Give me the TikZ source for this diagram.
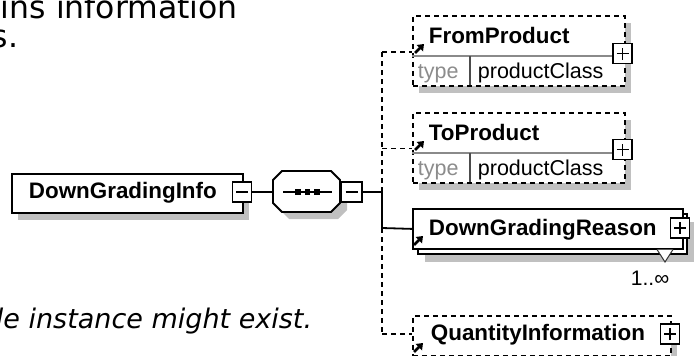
\documentclass[tikz,border=0pt]{standalone}
\usepackage{fontspec}
\setmainfont{Liberation Sans}
\newfontfamily\bodyfont{DejaVu Sans}
\usetikzlibrary{arrows.meta}
\definecolor{shadowgray}{HTML}{C0C0C0}
\definecolor{typegray}{HTML}{8C8C8C}
\definecolor{divgray}{HTML}{8A8A8A}
\begin{document}
\begin{tikzpicture}[x=1pt,y=-1pt,line width=1.8pt,
  shadowfill/.style={fill=shadowgray,draw=none},
  solidbox/.style={draw,fill=white,inner sep=0pt,anchor=north west},
  dbox/.style={solidbox,dash pattern=on 5pt off 4pt},
  dline/.style={dash pattern=on 5pt off 4pt},
  pmbox/.style={draw,solid,fill=white,inner sep=0pt,minimum width=19pt,minimum height=20pt},
  plusbox/.style={pmbox,path picture={\draw[line width=1.7pt]
      ([xshift=-6pt]path picture bounding box.center) -- ([xshift=6pt]path picture bounding box.center)
      ([yshift=-6pt]path picture bounding box.center) -- ([yshift=6pt]path picture bounding box.center);}},
  minusbox/.style={pmbox,path picture={\draw[line width=1.7pt]
      ([xshift=-6pt]path picture bounding box.center) -- ([xshift=6pt]path picture bounding box.center);}},
  elname/.style={font=\bfseries\fontsize{22.4}{26}\selectfont,anchor=base west,inner sep=0pt},
  plain/.style={font=\fontsize{21.5}{26}\selectfont,anchor=base west,inner sep=0pt},
  typetext/.style={plain,text=typegray},
  refarrow/.style={line width=2.8pt,line cap=butt},
  refhead/.style={fill=black,draw=none},
  dot/.style={fill=black,draw=none,minimum size=5.5pt,inner sep=0pt}
]
\useasboundingbox (0,0) rectangle (696,356);
\fill[white] (0,0) rectangle (696,356);

% body text (cut off)
\node[font=\bodyfont\fontsize{31.5}{34}\selectfont,anchor=base west,inner sep=0pt] (t1) at (0,18) {ins information};
\node[font=\bodyfont\fontsize{31.5}{34}\selectfont,anchor=base east,inner sep=0pt] (t2) at (19,47) {s.};
\node[font=\bodyfont\itshape\fontsize{27}{30}\selectfont,anchor=base east,inner sep=0pt] (t3) at (313,328) {gle instance might exist.};

% ---------- shadows ----------
\fill[shadowfill] (18,181) rectangle (249,220);
\fill[shadowfill] (289,178) -- (338,178) -- (347,187) -- (347,210) -- (338,219) -- (289,219) -- (280,210) -- (280,187) -- cycle;
\fill[shadowfill] (419,23) rectangle (631,93);
\fill[shadowfill] (419,120) rectangle (631,190);
\fill[shadowfill] (425,222) rectangle (694,262);
\fill[shadowfill] (419,323) rectangle (677,363);

% ---------- DownGradingInfo ----------
\node[solidbox,minimum width=231pt,minimum height=39pt] (dgi) at (11,173) {};
\node[elname] (dgit) at (28,198) {DownGradingInfo};
\node[minusbox] (dgim) at (242,192) {};

% ---------- sequence compositor ----------
\coordinate (seqw) at (273,192);
\draw[fill=white] (282,171) -- (331,171) -- (340,180) -- (340,203) -- (331,212) -- (282,212) -- (273,203) -- (273,180) -- cycle;
\coordinate (sl) at (283,192);
\coordinate (sr) at (332,192);
\draw (sl) -- (sr);
\node[dot] (d1) at (298,192) {};
\node[dot] (d2) at (307.5,192) {};
\node[dot] (d3) at (317,192) {};
\node[minusbox,minimum width=21pt] (seqm) at (351.5,192) {};
\draw (dgim.east) -- (seqw);

% ---------- bus ----------
\coordinate (b1) at (382,52);
\coordinate (b2) at (382,148.5);
\coordinate (b0) at (382,192);
\coordinate (b3) at (382,228);
\coordinate (b4) at (382,334);
\draw (seqm.east) -- (b0);
\draw[dline] (b0) -- (b1);
\draw (b0) -- (b3);
\draw[dline] (b3) -- (b4);

% reference-arrow icon
\newcommand{\refmark}[2]{%
  \draw[refarrow] (#1+1,#2+1) -- (#1+6,#2-4);
  \fill[refhead] (#1+10,#2-8) -- (#1+2.5,#2-7) -- (#1+9,#2-0.5) -- cycle;}

% ---------- FromProduct ----------
\node[dbox,minimum width=212pt,minimum height=70pt] (fp) at (412,15) {};
\draw[divgray,line width=1.5pt] (412,56) -- (624,56);
\draw[black!70,line width=1.5pt] (470,56) -- (470,85);
\node[elname] (fpt) at (428,43) {FromProduct};
\node[typetext] (fpty) at (417,78) {type};
\node[plain] (fpc) at (477,78) {productClass};
\node[plusbox] (fpp) at (622.5,53.5) {};
\draw[dline] (b1) -- (b1 -| fp.west);
\refmark{414}{52}

% ---------- ToProduct ----------
\node[dbox,minimum width=212pt,minimum height=70pt] (tp) at (412,112) {};
\draw[divgray,line width=1.5pt] (412,153) -- (624,153);
\draw[black!70,line width=1.5pt] (470,153) -- (470,182);
\node[elname] (tpt) at (428,140) {ToProduct};
\node[typetext] (tpty) at (417,175) {type};
\node[plain] (tpc) at (477,175) {productClass};
\node[plusbox] (tpp) at (622.5,149.5) {};
\draw[dline] (b2) -- (b2 -| tp.west);
\refmark{414}{149}

% ---------- DownGradingReason ----------
\node[solidbox,minimum width=269pt,minimum height=40pt] (dgrb) at (417,213) {};
\node[solidbox,minimum width=270pt,minimum height=40pt] (dgr) at (412,208) {};
\draw[draw=black!80,fill=white,line width=1pt] (657,249.5) -- (665,262) -- (673,249.5);
\node[elname] (dgrt) at (428,235) {DownGradingReason};
\node[plusbox] (dgrp) at (680,228) {};
\node[plain,font=\fontsize{21}{24}\selectfont] (card) at (630,285) {1..∞};
\draw (b3) -- (dgr.west);
\refmark{413}{244}

% ---------- QuantityInformation ----------
\node[dbox,minimum width=258pt,minimum height=40pt] (qi) at (412,315) {};
\node[elname] (qit) at (430,340) {QuantityInformation};
\node[plusbox] (qip) at (670,334) {};
\draw[dline] (b4) -- (b4 -| qi.west);
\refmark{413}{351}
\end{tikzpicture}
\end{document}
